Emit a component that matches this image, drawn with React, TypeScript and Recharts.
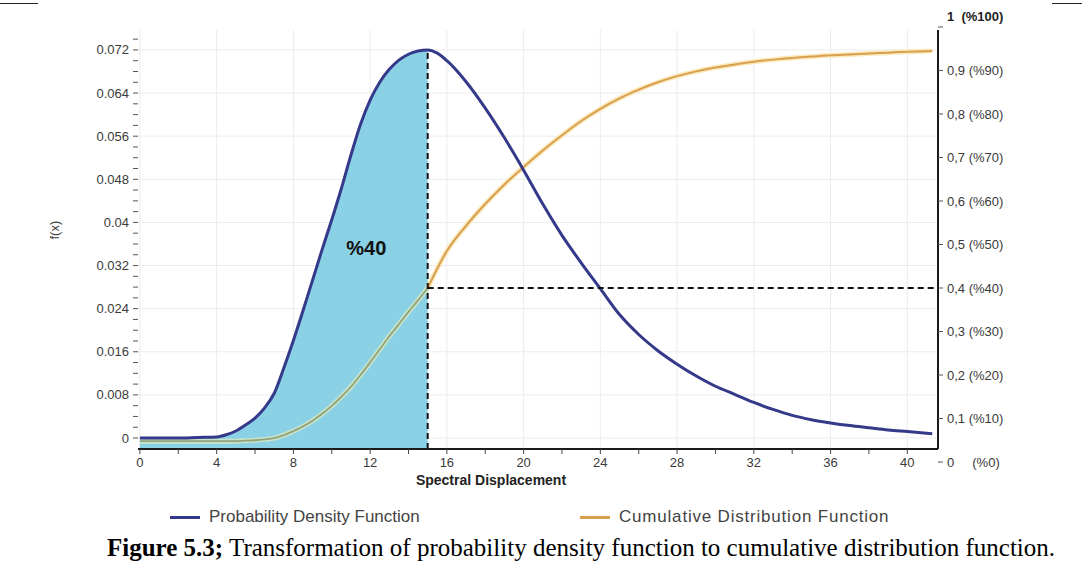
import React from 'react';
import {
  ComposedChart, Line, Area, XAxis, YAxis, CartesianGrid, ReferenceLine, ReferenceDot, Legend,
} from 'recharts';

// ---------- data ----------
const xValues = [0, 1, 2, 3, 4, 4.5, 5, 5.5, 6, 6.5, 7, 7.5, 8, 8.5, 9, 9.5, 10, 10.5, 11, 11.5, 12, 12.5, 13, 13.5, 14, 14.5, 15, 15.5, 16, 17, 18, 19, 20, 21, 22, 23, 24, 25, 26, 27, 28, 29, 30, 31, 32, 33, 34, 35, 36, 37, 38, 39, 40, 41.3];
const pdfValues = [0.0, 0.0, 0.0, 0.0001, 0.0002, 0.0006, 0.0013, 0.0024, 0.0037, 0.0056, 0.0083, 0.013, 0.0181, 0.0236, 0.0293, 0.035, 0.0405, 0.0463, 0.0525, 0.0582, 0.0627, 0.066, 0.0684, 0.0701, 0.0712, 0.0718, 0.072, 0.0714, 0.07, 0.0661, 0.0612, 0.0557, 0.0497, 0.0434, 0.0376, 0.0325, 0.0277, 0.0229, 0.0192, 0.0162, 0.0137, 0.0115, 0.0096, 0.0081, 0.0066, 0.0053, 0.0042, 0.0034, 0.0028, 0.0023, 0.0019, 0.0015, 0.0012, 0.0008];
const cdfValues = [0.048, 0.048, 0.048, 0.048, 0.048, 0.048, 0.048, 0.049, 0.05, 0.052, 0.055, 0.062, 0.071, 0.082, 0.095, 0.111, 0.129, 0.15, 0.173, 0.2, 0.229, 0.259, 0.289, 0.317, 0.345, 0.372, 0.4, 0.445, 0.485, 0.543, 0.593, 0.638, 0.678, 0.716, 0.751, 0.784, 0.812, 0.836, 0.856, 0.873, 0.887, 0.898, 0.907, 0.914, 0.92, 0.925, 0.929, 0.932, 0.935, 0.937, 0.939, 0.941, 0.943, 0.945];
const splitX = 15;
const shadedLabel = '%40';

const xTicks = [0, 2, 4, 6, 8, 10, 12, 14, 16, 18, 20, 22, 24, 26, 28, 30, 32, 34, 36, 38, 40];
const xLabelEvery = 4;
const leftTickValues = [0, 0.002, 0.004, 0.006, 0.008, 0.01, 0.012, 0.014, 0.016, 0.018, 0.02, 0.022, 0.024, 0.026, 0.028, 0.03, 0.032, 0.034, 0.036, 0.038, 0.04, 0.042, 0.044, 0.046, 0.048, 0.05, 0.052, 0.054, 0.056, 0.058, 0.06, 0.062, 0.064, 0.066, 0.068, 0.07, 0.072, 0.074];
const leftMajorValues = [0, 0.008, 0.016, 0.024, 0.032, 0.04, 0.048, 0.056, 0.064, 0.072];
const leftMajorLabels = ['0', '0.008', '0.016', '0.024', '0.032', '0.04', '0.048', '0.056', '0.064', '0.072'];
const rightTickValues = [0, 0.1, 0.2, 0.3, 0.4, 0.5, 0.6, 0.7, 0.8, 0.9, 1];
const rightTickLabels = ['0     (%0)', '0,1 (%10)', '0,2 (%20)', '0,3 (%30)', '0,4 (%40)', '0,5 (%50)', '0,6 (%60)', '0,7 (%70)', '0,8 (%80)', '0,9 (%90)', '1  (%100)'];
const leftDomain = [-0.00204, 0.0757];
const rightDomain = [0.0299, 0.9931];
const xDomain = [-0.1, 41.6];

const seriesNames = ['Probability Density Function', 'Cumulative Distribution Function'];
const xAxisTitle = 'Spectral Displacement';
const yAxisTitle = 'f(x)';
const captionBold = 'Figure 5.3;';
const captionText = ' Transformation of probability density function to cumulative distribution function.';

const PDF_COLOR = '#35398a';
const FILL_COLOR = '#8bd1e6';
const CDF_COLOR = '#d8a04e';
const CDF_HALO = '#fbe8bb';
const CDF_LEFT_COLOR = '#90a47c';
const CDF_LEFT_HALO = '#c9e3c8';

const data = xValues.map((x, i) => ({
  x,
  pdf: pdfValues[i],
  pdfFill: x <= splitX ? pdfValues[i] : null,
  cdfLeft: x <= splitX ? cdfValues[i] : null,
  cdfRight: x >= splitX ? cdfValues[i] : null,
}));

const splitIndex = xValues.indexOf(splitX);
const pdfAtSplit = pdfValues[splitIndex];
const cdfAtSplit = cdfValues[splitIndex];

const AXIS_FONT = 'Arial, "Liberation Sans", sans-serif';

const LeftTick = (props: any) => {
  const { x, y, payload } = props;
  const idx = leftMajorValues.findIndex((v) => Math.abs(v - payload.value) < 1e-9);
  if (idx < 0) return null;
  return (
    <text x={x} y={y} dy="0.35em" textAnchor="end" fontSize={13} fill="#3a3a3a" fontFamily={AXIS_FONT}>
      {leftMajorLabels[idx]}
    </text>
  );
};

const BottomTick = (props: any) => {
  const { x, y, payload } = props;
  if (payload.value % xLabelEvery !== 0) return null;
  return (
    <text x={x} y={y} dy="0.71em" textAnchor="middle" fontSize={13} fill="#3a3a3a" fontFamily={AXIS_FONT}>
      {String(payload.value)}
    </text>
  );
};

const RightTick = (props: any) => {
  const { x, y, payload } = props;
  const idx = rightTickValues.findIndex((v) => Math.abs(v - payload.value) < 1e-9);
  const isTop = idx === rightTickValues.length - 1;
  return (
    <text x={x} y={y} dy={isTop ? '-0.45em' : '0.35em'} textAnchor="start" fontSize={13} fill={isTop ? '#222' : '#3a3a3a'} fontWeight={isTop ? 700 : 400} fontFamily={AXIS_FONT} style={{ whiteSpace: 'pre' }}>
      {idx >= 0 ? rightTickLabels[idx] : ''}
    </text>
  );
};

const legendItems = [
  { name: seriesNames[0], color: PDF_COLOR, left: 170, spacing: 0 },
  { name: seriesNames[1], color: CDF_COLOR, left: 580, spacing: 0.8 },
];

const LegendContent = () => (
  <div style={{ position: 'relative', width: 1082, height: 24 }}>
    {legendItems.map((it) => (
      <div key={it.name} style={{ position: 'absolute', left: it.left, top: 0, height: 24, display: 'flex', alignItems: 'center', fontFamily: AXIS_FONT, fontSize: 17, color: '#444', letterSpacing: it.spacing }}>
        <span style={{ display: 'inline-block', width: 30, height: 3, background: it.color, marginRight: 9 }} />
        <span>{it.name}</span>
      </div>
    ))}
  </div>
);

export default function App() {
  return (
    <div style={{ position: 'absolute', left: 0, top: 0, width: 1082, height: 574, background: '#fff', overflow: 'hidden' }}>
      <div style={{ position: 'absolute', left: 0, top: 3, width: 38, height: 0, borderTop: '1.5px solid #222' }} />
      <div style={{ position: 'absolute', left: 1052, top: 3, width: 30, height: 0, borderTop: '1.5px solid #222' }} />
      <ComposedChart
        width={1082}
        height={574}
        data={data}
        margin={{ top: 30, right: 44, bottom: 85, left: 40 }}
      >
        <CartesianGrid
          stroke="#ececec"
          xAxisId="bottom"
          yAxisId="left"
          horizontalValues={leftMajorValues}
          verticalValues={xTicks.filter((t) => t % xLabelEvery === 0)}
        />
        <XAxis
          xAxisId="bottom"
          dataKey="x"
          type="number"
          domain={xDomain}
          allowDataOverflow
          ticks={xTicks}
          interval={0}
          tick={<BottomTick />}
          tickSize={5}
          tickMargin={4}
          tickLine={{ stroke: '#444' }}
          axisLine={{ stroke: '#1a1a1a', strokeWidth: 2 }}
          height={40}
          label={{ value: xAxisTitle, position: 'insideBottom', offset: 4, dx: -47, fontSize: 14, fontWeight: 700, fill: '#222', fontFamily: AXIS_FONT }}
        />
        <XAxis
          xAxisId="top"
          orientation="top"
          dataKey="x"
          type="number"
          domain={xDomain}
          allowDataOverflow
          tick={false}
          tickLine={false}
          height={0}
          axisLine={{ stroke: '#1a1a1a', strokeWidth: 2 }}
        />
        <YAxis
          yAxisId="left"
          type="number"
          domain={leftDomain}
          allowDataOverflow
          ticks={leftTickValues}
          interval={0}
          tick={<LeftTick />}
          tickSize={5}
          tickMargin={4}
          tickLine={{ stroke: '#555' }}
          axisLine={false}
          width={98}
          label={{ value: yAxisTitle, angle: -90, position: 'insideLeft', offset: 14, fontSize: 13, fill: '#444', fontFamily: AXIS_FONT }}
        />
        <YAxis
          yAxisId="right"
          orientation="right"
          type="number"
          domain={rightDomain}
          allowDataOverflow
          ticks={rightTickValues}
          interval={0}
          tick={<RightTick />}
          tickSize={5}
          tickMargin={4}
          tickLine={{ stroke: '#555' }}
          axisLine={{ stroke: '#1a1a1a', strokeWidth: 2 }}
          width={100}
        />
        <Area
          xAxisId="bottom"
          yAxisId="left"
          dataKey="pdfFill"
          type="monotone"
          fill={FILL_COLOR}
          fillOpacity={1}
          stroke="none"
          baseValue="dataMin"
          isAnimationActive={false}
          legendType="none"
          activeDot={false}
        />
        <Line xAxisId="bottom" yAxisId="right" dataKey="cdfLeft" type="monotone" stroke={CDF_LEFT_HALO} strokeWidth={5} dot={false} isAnimationActive={false} legendType="none" activeDot={false} />
        <Line xAxisId="bottom" yAxisId="right" dataKey="cdfLeft" type="monotone" stroke={CDF_LEFT_COLOR} strokeWidth={1.8} dot={false} isAnimationActive={false} legendType="none" activeDot={false} />
        <Line xAxisId="bottom" yAxisId="right" dataKey="cdfRight" type="monotone" stroke={CDF_HALO} strokeWidth={5} dot={false} isAnimationActive={false} legendType="none" activeDot={false} />
        <Line xAxisId="bottom" yAxisId="right" dataKey="cdfRight" name={seriesNames[1]} type="monotone" stroke={CDF_COLOR} strokeWidth={2} dot={false} isAnimationActive={false} activeDot={false} />
        <Line xAxisId="bottom" yAxisId="left" dataKey="pdf" name={seriesNames[0]} type="monotone" stroke={PDF_COLOR} strokeWidth={3} dot={false} isAnimationActive={false} activeDot={false} />
        <ReferenceLine
          xAxisId="bottom"
          yAxisId="left"
          segment={[{ x: splitX, y: leftDomain[0] }, { x: splitX, y: pdfAtSplit }]}
          stroke="#111"
          strokeWidth={2}
          strokeDasharray="6 4"
          ifOverflow="visible"
        />
        <ReferenceLine
          xAxisId="bottom"
          yAxisId="right"
          segment={[{ x: splitX, y: cdfAtSplit }, { x: xDomain[1], y: cdfAtSplit }]}
          stroke="#111"
          strokeWidth={2}
          strokeDasharray="6 4"
          ifOverflow="visible"
        />
        <ReferenceDot
          xAxisId="bottom"
          yAxisId="left"
          x={11.8}
          y={0.0352}
          r={0}
          fill="none"
          stroke="none"
          label={{ value: shadedLabel, position: 'center', fontSize: 20, fontWeight: 700, fill: '#111', fontFamily: AXIS_FONT }}
        />
        <Legend
          layout="horizontal"
          verticalAlign="middle"
          align="center"
          wrapperStyle={{ top: 505, left: 0, width: 1082, height: 24 }}
          content={<LegendContent />}
        />
      </ComposedChart>
      <div style={{ position: 'absolute', left: 107, top: 533, fontFamily: '"Liberation Serif", "Times New Roman", serif', fontSize: 25, lineHeight: '30px', color: '#000', whiteSpace: 'nowrap' }}>
        <b>{captionBold}</b>{captionText}
      </div>
    </div>
  );
}
